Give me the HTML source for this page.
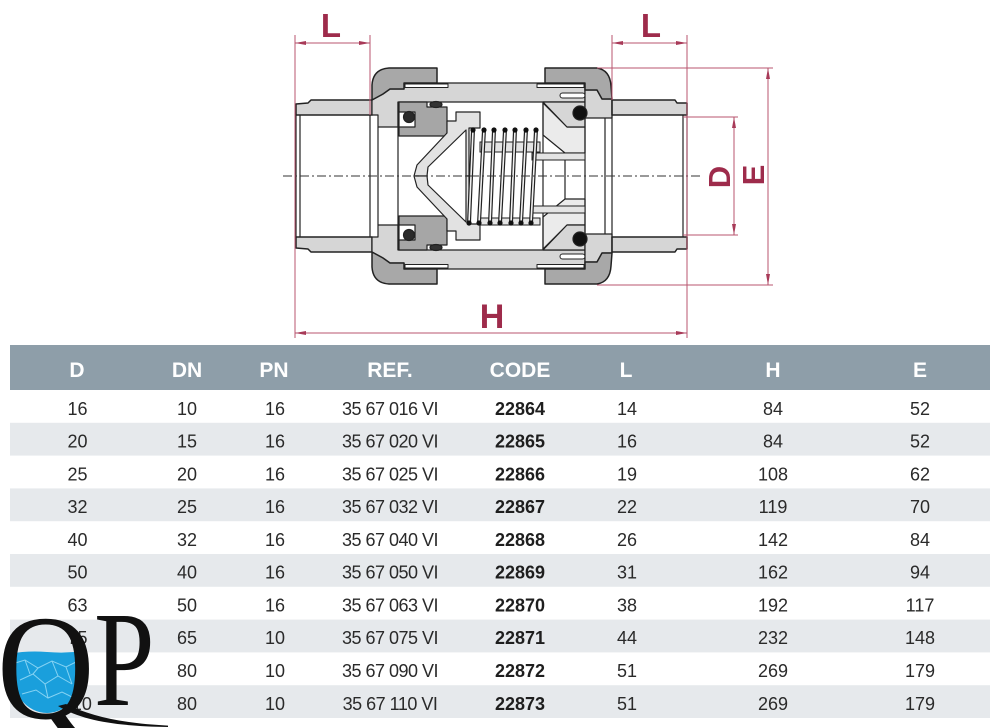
<!DOCTYPE html>
<html><head><meta charset="utf-8"><style>
html,body{margin:0;padding:0;background:#fff;}
svg{display:block;}
</style></head><body>
<svg width="1000" height="728" viewBox="0 0 1000 728" xmlns="http://www.w3.org/2000/svg">
<rect width="1000" height="728" fill="#fff"/>
<defs>
<g id="half" stroke="#222" stroke-width="1.2" stroke-linejoin="round">
  <path d="M296,115 L296,104 L308,103 L311,100 L372,100 L372,115 Z" fill="#d6d6d6" stroke-width="1.5"/>
  <line x1="296" y1="115" x2="296" y2="176"/>
  <line x1="300" y1="115" x2="300" y2="176"/>
  <line x1="370" y1="115" x2="370" y2="176"/>
  <path d="M372,100 L383,94 L390,89 L404,89 L404,83 L585,83 L585,102 L398,102 L398,127 L378,127 L378,115 L372,115 Z" fill="#d6d6d6"/>
  <line x1="378" y1="127" x2="378" y2="176"/>
  <line x1="398" y1="102" x2="398" y2="176"/>
  <rect x="405" y="84" width="43" height="3.5" fill="#fff" stroke-width="1"/>
  <rect x="537" y="84" width="47" height="3.5" fill="#fff" stroke-width="1"/>
  <path d="M543,103 L567,127 L585,127 L585,153 L565,153 L543,135 Z" fill="#ebebeb"/>
  <path d="M543,102 L585,102 L585,127 L567,127 Z" fill="#d6d6d6"/>
  <line x1="543" y1="102" x2="543" y2="176"/>
  <line x1="565" y1="153" x2="565" y2="176"/>
  <line x1="585" y1="83" x2="585" y2="176"/>
  <rect x="560" y="93" width="25" height="5" rx="2.5" fill="#fff" stroke-width="1"/>
  <path d="M585,90 L597,90 L602,99 L612,99 L612,118 L585,118 Z" fill="#d6d6d6"/>
  <line x1="605" y1="118" x2="605" y2="176"/>
  <circle cx="580" cy="113" r="7" fill="#111"/>
  <path d="M372,100 L372,85 Q373,69 389,68 L437,68 L437,83 L404,83 L404,89 L390,89 L383,94 Z" fill="#a8a8a8" stroke-width="1.5"/>
  <path d="M545,68 L597,68 Q610,70 611,86 L612,99 L602,99 L597,90 L585,90 L585,83 L545,83 Z" fill="#a8a8a8" stroke-width="1.5"/>
  <path d="M612,100 L675,100 L677,103 L687,103 L687,115 L612,115 Z" fill="#d6d6d6" stroke-width="1.5"/>
  <line x1="612" y1="99" x2="612" y2="176"/>
  <line x1="683" y1="115" x2="683" y2="176"/>
  <line x1="687" y1="103" x2="687" y2="176"/>
  <path d="M399,102 L427,102 L427,107 L447,107 L447,136 L399,136 Z" fill="#a6a6a6"/>
  <rect x="399" y="112" width="16" height="15" fill="#fff"/>
  <circle cx="409" cy="117" r="5.5" fill="#2a2a2a"/>
  <ellipse cx="436" cy="104.5" rx="6" ry="3" fill="#333"/>
  <circle cx="452" cy="127" r="4.5" fill="#2a2a2a"/>
  <path d="M456,112 L480,112 L480,128 L469,128 L469,176 L466,176 L466,130 L428,167 L427,176 L414,176 L417,165 L447,133 L447,121 L456,121 Z" fill="#e2e2e2"/>
</g>
</defs>
<use href="#half"/>
<use href="#half" transform="matrix(1 0 0 -1 0 352)"/>

<g stroke="#222" stroke-width="1" fill="#e4e4e4">
  <rect x="480" y="142" width="60" height="10"/>
  <rect x="480" y="218" width="60" height="7"/>
  <rect x="532" y="153" width="53" height="7"/>
  <rect x="532" y="206" width="53" height="7"/>
</g>
<g stroke-linecap="round">
  <g stroke="#222" stroke-width="4">
    <line x1="473" y1="130" x2="469" y2="223"/>
    <line x1="484" y1="130" x2="479" y2="223"/>
    <line x1="494" y1="130" x2="490" y2="223"/>
    <line x1="505" y1="130" x2="500" y2="223"/>
    <line x1="515" y1="130" x2="511" y2="223"/>
    <line x1="526" y1="130" x2="521" y2="223"/>
    <line x1="536" y1="130" x2="531" y2="223"/>
  </g>
  <g stroke="#f2f2f2" stroke-width="1.6">
    <line x1="473" y1="130" x2="469" y2="223"/>
    <line x1="484" y1="130" x2="479" y2="223"/>
    <line x1="494" y1="130" x2="490" y2="223"/>
    <line x1="505" y1="130" x2="500" y2="223"/>
    <line x1="515" y1="130" x2="511" y2="223"/>
    <line x1="526" y1="130" x2="521" y2="223"/>
    <line x1="536" y1="130" x2="531" y2="223"/>
  </g>
  <g fill="#111">
    <circle cx="473" cy="130" r="2.6"/><circle cx="484" cy="130" r="2.6"/><circle cx="494" cy="130" r="2.6"/><circle cx="505" cy="130" r="2.6"/><circle cx="515" cy="130" r="2.6"/><circle cx="526" cy="130" r="2.6"/><circle cx="536" cy="130" r="2.6"/>
    <circle cx="469" cy="223" r="2.6"/><circle cx="479" cy="223" r="2.6"/><circle cx="490" cy="223" r="2.6"/><circle cx="500" cy="223" r="2.6"/><circle cx="511" cy="223" r="2.6"/><circle cx="521" cy="223" r="2.6"/><circle cx="531" cy="223" r="2.6"/>
  </g>
</g>

<line x1="283" y1="176" x2="700" y2="176" stroke="#333" stroke-width="1" stroke-dasharray="9 3 2 3"/>

<g stroke="#b8566f" stroke-width="1" fill="none">
  <line x1="295" y1="35" x2="295" y2="338"/>
  <line x1="370" y1="35" x2="370" y2="115"/>
  <line x1="612" y1="35" x2="612" y2="100"/>
  <line x1="687" y1="35" x2="687" y2="338"/>
  <line x1="597" y1="68" x2="773" y2="68"/>
  <line x1="597" y1="285" x2="773" y2="285"/>
  <line x1="683" y1="117" x2="738" y2="117"/>
  <line x1="683" y1="235" x2="738" y2="235"/>
  <line x1="295" y1="43" x2="370" y2="43"/>
  <line x1="612" y1="43" x2="687" y2="43"/>
  <line x1="295" y1="333" x2="687" y2="333"/>
  <line x1="768" y1="68" x2="768" y2="285"/>
  <line x1="734" y1="117" x2="734" y2="235"/>
</g>
<g fill="#a83a58">
  <polygon points="295,43 306,41 306,45"/><polygon points="370,43 359,41 359,45"/>
  <polygon points="612,43 623,41 623,45"/><polygon points="687,43 676,41 676,45"/>
  <polygon points="295,333 306,331 306,335"/><polygon points="687,333 676,331 676,335"/>
  <polygon points="768,68 766,79 770,79"/><polygon points="768,285 766,274 770,274"/>
  <polygon points="734,117 732,128 736,128"/><polygon points="734,235 732,224 736,224"/>
</g>
<g fill="#9e2b4b" font-family="Liberation Sans, sans-serif" font-weight="bold" text-anchor="middle">
  <text x="331" y="37" font-size="33">L</text>
  <text x="651" y="37" font-size="33">L</text>
  <text x="492" y="328" font-size="34">H</text>
  <text transform="translate(730,177) rotate(-90)" font-size="31">D</text>
  <text transform="translate(764,175) rotate(-90)" font-size="31">E</text>
</g>

<rect x="10" y="345" width="980" height="45" fill="#8e9ea9"/>
<g fill="#e6e9ec">
  <rect x="10" y="422.8" width="980" height="32.8"/>
  <rect x="10" y="488.4" width="980" height="32.8"/>
  <rect x="10" y="554" width="980" height="32.8"/>
  <rect x="10" y="619.6" width="980" height="32.8"/>
  <rect x="10" y="685.2" width="980" height="32.8"/>
</g>
<g fill="#fff" font-family="Liberation Sans, sans-serif" font-weight="bold" font-size="21" text-anchor="middle">
  <text x="77" y="377">D</text>
  <text x="187" y="377">DN</text>
  <text x="274" y="377">PN</text>
  <text x="390" y="377">REF.</text>
  <text x="520" y="377">CODE</text>
  <text x="626" y="377">L</text>
  <text x="773" y="377">H</text>
  <text x="920" y="377">E</text>
</g>
<g fill="#2a2a2a" font-family="Liberation Sans, sans-serif" font-size="18" text-anchor="middle">
  <text x="77.5" y="415">16</text><text x="77.5" y="447.5">20</text><text x="77.5" y="480.5">25</text><text x="77.5" y="513">32</text><text x="77.5" y="546">40</text><text x="77.5" y="578.5">50</text><text x="77.5" y="611.5">63</text><text x="77.5" y="644">75</text><text x="77.5" y="677">90</text><text x="77.5" y="710">110</text>
  <text x="187" y="415">10</text><text x="187" y="447.5">15</text><text x="187" y="480.5">20</text><text x="187" y="513">25</text><text x="187" y="546">32</text><text x="187" y="578.5">40</text><text x="187" y="611.5">50</text><text x="187" y="644">65</text><text x="187" y="677">80</text><text x="187" y="710">80</text>
  <text x="275" y="415">16</text><text x="275" y="447.5">16</text><text x="275" y="480.5">16</text><text x="275" y="513">16</text><text x="275" y="546">16</text><text x="275" y="578.5">16</text><text x="275" y="611.5">16</text><text x="275" y="644">10</text><text x="275" y="677">10</text><text x="275" y="710">10</text>
  <g letter-spacing="-0.5">
  <text x="390" y="415">35 67 016 VI</text>
  <text x="390" y="447.5">35 67 020 VI</text>
  <text x="390" y="480.5">35 67 025 VI</text>
  <text x="390" y="513">35 67 032 VI</text>
  <text x="390" y="546">35 67 040 VI</text>
  <text x="390" y="578.5">35 67 050 VI</text>
  <text x="390" y="611.5">35 67 063 VI</text>
  <text x="390" y="644">35 67 075 VI</text>
  <text x="390" y="677">35 67 090 VI</text>
  <text x="390" y="710">35 67 110 VI</text>
  </g>
  <g font-weight="bold" fill="#1e1e1e">
  <text x="520" y="415">22864</text><text x="520" y="447.5">22865</text><text x="520" y="480.5">22866</text><text x="520" y="513">22867</text><text x="520" y="546">22868</text><text x="520" y="578.5">22869</text><text x="520" y="611.5">22870</text><text x="520" y="644">22871</text><text x="520" y="677">22872</text><text x="520" y="710">22873</text>
  </g>
  <text x="627" y="415">14</text><text x="627" y="447.5">16</text><text x="627" y="480.5">19</text><text x="627" y="513">22</text><text x="627" y="546">26</text><text x="627" y="578.5">31</text><text x="627" y="611.5">38</text><text x="627" y="644">44</text><text x="627" y="677">51</text><text x="627" y="710">51</text>
  <text x="773" y="415">84</text><text x="773" y="447.5">84</text><text x="773" y="480.5">108</text><text x="773" y="513">119</text><text x="773" y="546">142</text><text x="773" y="578.5">162</text><text x="773" y="611.5">192</text><text x="773" y="644">232</text><text x="773" y="677">269</text><text x="773" y="710">269</text>
  <text x="920" y="415">52</text><text x="920" y="447.5">52</text><text x="920" y="480.5">62</text><text x="920" y="513">70</text><text x="920" y="546">84</text><text x="920" y="578.5">94</text><text x="920" y="611.5">117</text><text x="920" y="644">148</text><text x="920" y="677">179</text><text x="920" y="710">179</text>
</g>

<defs>
  <clipPath id="cnt"><ellipse cx="47" cy="667" rx="37" ry="46"/></clipPath>
</defs>
<g clip-path="url(#cnt)">
  <path d="M0,656 Q22,650 47,652 T96,649 L96,725 L0,725 Z" fill="#1a9fdc"/>
  <g stroke="#9adcf7" stroke-width="1" fill="none" opacity="0.85">
    <path d="M12,664 L25,660 L38,668 L52,661 L66,667 L80,660"/>
    <path d="M20,680 L33,674 L45,684 L58,676 L72,684"/>
    <path d="M25,660 L30,674 M45,684 L48,698 M58,676 L52,661 M66,667 L72,684 M38,668 L33,674"/>
    <path d="M22,694 L36,690 L48,698 L62,692 L74,698"/>
  </g>
</g>
<text transform="translate(-3,718) scale(0.9,1)" font-family="Liberation Serif, serif" font-size="150" fill="#111">Q</text>
<path d="M58,706 C85,722 120,726 168,727 L168,725.6 C125,723.5 92,717 66,704 Z" fill="#111"/>
<text transform="translate(94,705) scale(0.8,1)" font-family="Liberation Serif, serif" font-size="136" fill="#111">P</text>
</svg>
</body></html>
